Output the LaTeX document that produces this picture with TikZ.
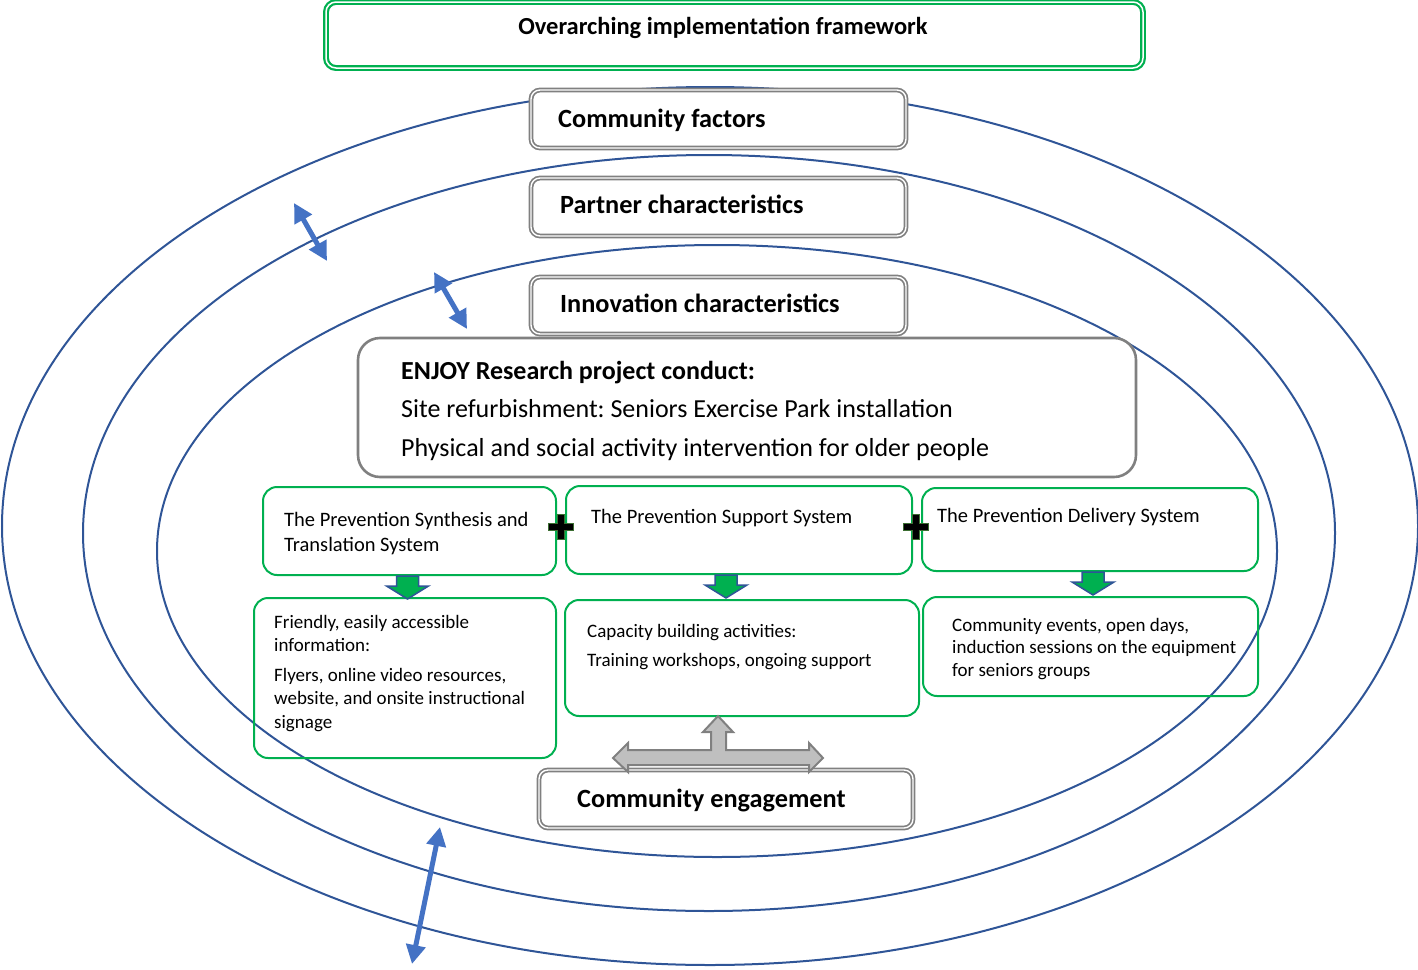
\documentclass[tikz,border=0pt]{standalone}
\usepackage{fontspec}
\setmainfont{Carlito}
\frenchspacing
\usetikzlibrary{arrows.meta}
\definecolor{ringblue}{RGB}{47,85,151}
\definecolor{arrowblue}{RGB}{68,114,196}
\definecolor{boxgreen}{RGB}{0,176,80}
\definecolor{plusgreen}{RGB}{60,110,50}
\begin{document}
\begin{tikzpicture}
  [x=1pt,y=-1pt,
  ring/.style={draw=ringblue,line width=2pt},
  framebox/.style={draw=boxgreen,double=white,double distance=1.5pt,line width=2.2pt,rounded corners=10pt,inner sep=0pt},
  greybox/.style={draw=gray,double=white,double distance=1.4pt,line width=1.7pt,rounded corners=9pt,fill=white,inner sep=0pt},
  projbox/.style={draw=gray,line width=2.6pt,rounded corners=22pt,fill=white,inner sep=0pt},
  greenbox/.style={draw=boxgreen,line width=2pt,rounded corners=14pt,inner sep=0pt},
  bigtxt/.style={font=\fontsize{26.3}{31}\selectfont\bfseries,inner sep=0pt},
  toptxt/.style={font=\fontsize{24.5}{29}\selectfont\bfseries,inner sep=0pt},
  projtxt/.style={font=\fontsize{26}{38.5}\selectfont,align=left,inner sep=0pt},
  systxt/.style={font=\fontsize{20.5}{25}\selectfont,align=left,inner sep=0pt},
  smalltxt/.style={font=\fontsize{19}{23.5}\selectfont,align=left,inner sep=0pt},
  twoway/.style={draw=arrowblue,line width=5pt,{Triangle[length=19pt,width=19pt]}-{Triangle[length=19pt,width=19pt]}},
  downarrow/.style={fill=boxgreen,draw=ringblue,line width=1.5pt},
  plus/.style={fill=black,draw=plusgreen,line width=1.5pt},
  tarrow/.style={fill=gray!50,draw=gray,line width=2pt}]
  \useasboundingbox (0,0) rectangle (1418,969);

  % rings
  \draw[ring] (710,526) ellipse [x radius=708,y radius=439];
  \draw[ring] (709,533) ellipse [x radius=626,y radius=378];
  \draw[ring] (717,551) ellipse [x radius=560,y radius=306];

  % framework and factor boxes
  \node[framebox,minimum width=817,minimum height=66] (frame) at (734.5,35) {};
  \node[toptxt,anchor=base] (framet) at (723,34) {Overarching implementation framework};
  \node[greybox,minimum width=375,minimum height=58] (comm) at (718.5,119) {};
  \node[bigtxt,anchor=base west] (commt) at (558,127) {Community factors};
  \node[greybox,minimum width=375,minimum height=58] (partner) at (718.5,207) {};
  \node[bigtxt,anchor=base west] (partnert) at (560,213) {Partner characteristics};
  \node[greybox,minimum width=375,minimum height=57] (innov) at (718.5,305.5) {};
  \node[bigtxt,anchor=base west] (innovt) at (560,312) {Innovation characteristics};

  % project conduct
  \node[projbox,minimum width=778,minimum height=139] (enjoy) at (747,407.5) {};
  \node[projtxt,anchor=base west] (enjoyt) at (401,456)
    {\textbf{ENJOY Research project conduct:}\\
     Site refurbishment: Seniors Exercise Park installation\\
     Physical and social activity intervention for older people};

  % three systems
  \node[greenbox,minimum width=293,minimum height=88] (synth) at (409.5,531) {};
  \node[systxt,anchor=base west] (syntht) at (284,551) {The Prevention Synthesis and\\Translation System};
  \node[greenbox,minimum width=346,minimum height=88] (support) at (739,530) {};
  \node[systxt,anchor=base west] (supportt) at (591,523) {The Prevention Support System};
  \node[greenbox,minimum width=336,minimum height=83] (deliver) at (1090,529.5) {};
  \node[systxt,anchor=base west] (delivert) at (937,522) {The Prevention Delivery System};

  \node[greenbox,minimum width=302,minimum height=160] (info) at (405,678) {};
  \node[smalltxt,anchor=base west] (infot) at (274,728)
    {Friendly, easily accessible\\information:\\[6pt]
     Flyers, online video resources,\\website, and onsite instructional\\signage};
  \node[greenbox,minimum width=354,minimum height=116] (capac) at (742,658) {};
  \node[smalltxt,anchor=base west] (capact) at (587,666)
    {Capacity building activities:\\[5.5pt]Training workshops, ongoing support};
  \node[greenbox,minimum width=335,minimum height=99] (events) at (1090.5,646.5) {};
  \node[smalltxt,anchor=base west,font=\fontsize{19}{22.5}\selectfont] (eventst) at (952,676)
    {Community events, open days,\\induction sessions on the equipment\\for seniors groups};

  \node[greybox,minimum width=374,minimum height=58] (engage) at (726,799) {};
  \node[bigtxt,anchor=base west] (engaget) at (577,807) {Community engagement};

  % links between systems
  \foreach \p in {(561,527),(916,527)}
    \draw[plus,shift={\p}] (-3.7,-12.5) -- (3.7,-12.5) -- (3.7,-3.7) -- (12.5,-3.7) -- (12.5,3.7)
      -- (3.7,3.7) -- (3.7,12.5) -- (-3.7,12.5) -- (-3.7,3.7) -- (-12.5,3.7) -- (-12.5,-3.7) -- (-3.7,-3.7) -- cycle;
  \foreach \a/\dx in {synth/-2,support/-13,deliver/3}
    \draw[downarrow] ([xshift=\dx pt]\a.south) ++(-11,0) -- ++(22,0) -- ++(0,10) -- ++(10,0)
      -- ++(-21,13) -- ++(-21,-13) -- ++(10,0) -- cycle;
  \draw[tarrow] (613,758) -- (628,743) -- (628,750) -- (711,750) -- (711,732) -- (703,732) -- (718,716)
    -- (733,732) -- (726,732) -- (726,750) -- (809,750) -- (809,743) -- (823,758) -- (809,772)
    -- (809,765) -- (628,765) -- (628,772) -- cycle;

  % arrows across the rings
  \coordinate (o1) at (294,203);
  \coordinate (i1) at (327,261);
  \coordinate (o2) at (434,272);
  \coordinate (i2) at (467,329);
  \coordinate (i3) at (440,827);
  \coordinate (o3) at (412,964);
  \draw[twoway] (o1) -- (i1);
  \draw[twoway] (o2) -- (i2);
  \draw[twoway] (i3) -- (o3);
\end{tikzpicture}
\end{document}
